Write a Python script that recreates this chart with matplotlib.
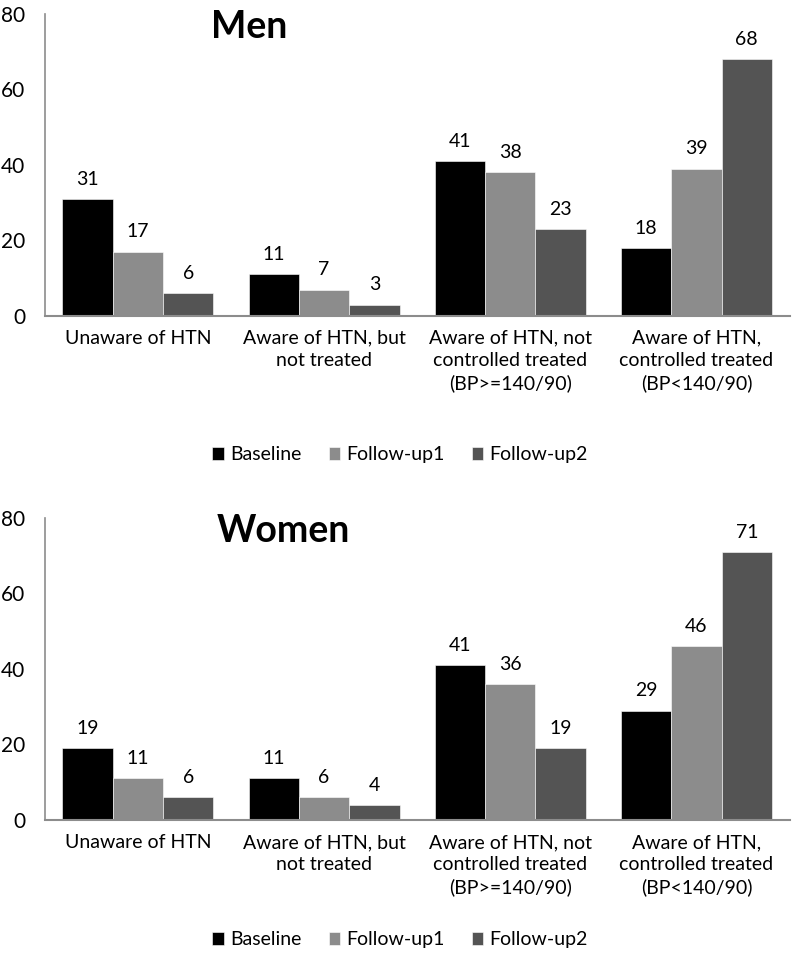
import matplotlib
matplotlib.use('Agg')
import matplotlib.pyplot as plt
import numpy as np

plt.rcParams['font.family'] = ['Lato', 'DejaVu Sans']

categories = ['Unaware of HTN',
              'Aware of HTN, but\nnot treated',
              'Aware of HTN, not\ncontrolled treated\n(BP>=140/90)',
              'Aware of HTN,\ncontrolled treated\n(BP<140/90)']
series_names = ['Baseline', 'Follow-up1', 'Follow-up2']
colors = ['#000000', '#8c8c8c', '#545454']

men_baseline = [31, 11, 41, 18]
men_fu1 = [17, 7, 38, 39]
men_fu2 = [6, 3, 23, 68]

women_baseline = [19, 11, 41, 29]
women_fu1 = [11, 6, 36, 46]
women_fu2 = [6, 4, 19, 71]

yticks = [0, 20, 40, 60, 80]

fig = plt.figure(figsize=(8, 9.68), dpi=100)


def panel(rect, title, data, title_x, legend_y):
    ax = fig.add_axes(rect)
    x = np.arange(len(categories))
    w = 0.27
    bars = []
    for i, (vals, c, name) in enumerate(zip(data, colors, series_names)):
        b = ax.bar(x + (i - 1) * w, vals, w, color=c, label=name, edgecolor='white', linewidth=0.4)
        bars.append(b)
        for xi, v in zip(x + (i - 1) * w, vals):
            ax.text(xi, v + 3, str(v), ha='center', va='bottom', fontsize=14)
    ax.set_xlim(-0.5, len(categories) - 0.5)
    ax.set_ylim(0, 80)
    ax.set_yticks(yticks)
    ax.set_yticklabels([str(t) for t in yticks], fontsize=15)
    ax.set_xticks(x)
    ax.set_xticklabels(categories, fontsize=14, linespacing=1.35)
    ax.tick_params(axis='both', length=0)
    ax.tick_params(axis='y', pad=14)
    ax.tick_params(axis='x', pad=10)
    for s in ['top', 'right']:
        ax.spines[s].set_visible(False)
    ax.spines['left'].set_color('#8c8c8c')
    ax.spines['bottom'].set_color('#8c8c8c')
    ax.spines['left'].set_linewidth(1.2)
    ax.spines['bottom'].set_linewidth(1.5)
    ax.text(title_x, 76.5, title, fontsize=27, fontweight='bold', ha='center', va='center')
    fig.legend(handles=bars, labels=series_names, loc='center', bbox_to_anchor=(0.5, legend_y),
               ncol=3, frameon=False, fontsize=14, handlelength=0.6, handleheight=0.6,
               handletextpad=0.3, columnspacing=1.4)
    return ax


panel([0.056, 0.6736, 0.931, 0.312], 'Men', [men_baseline, men_fu1, men_fu2], 0.6, 0.53)
panel([0.056, 0.1529, 0.931, 0.312], 'Women', [women_baseline, women_fu1, women_fu2], 0.78, 0.029)

fig.savefig('out.png', dpi=100)
